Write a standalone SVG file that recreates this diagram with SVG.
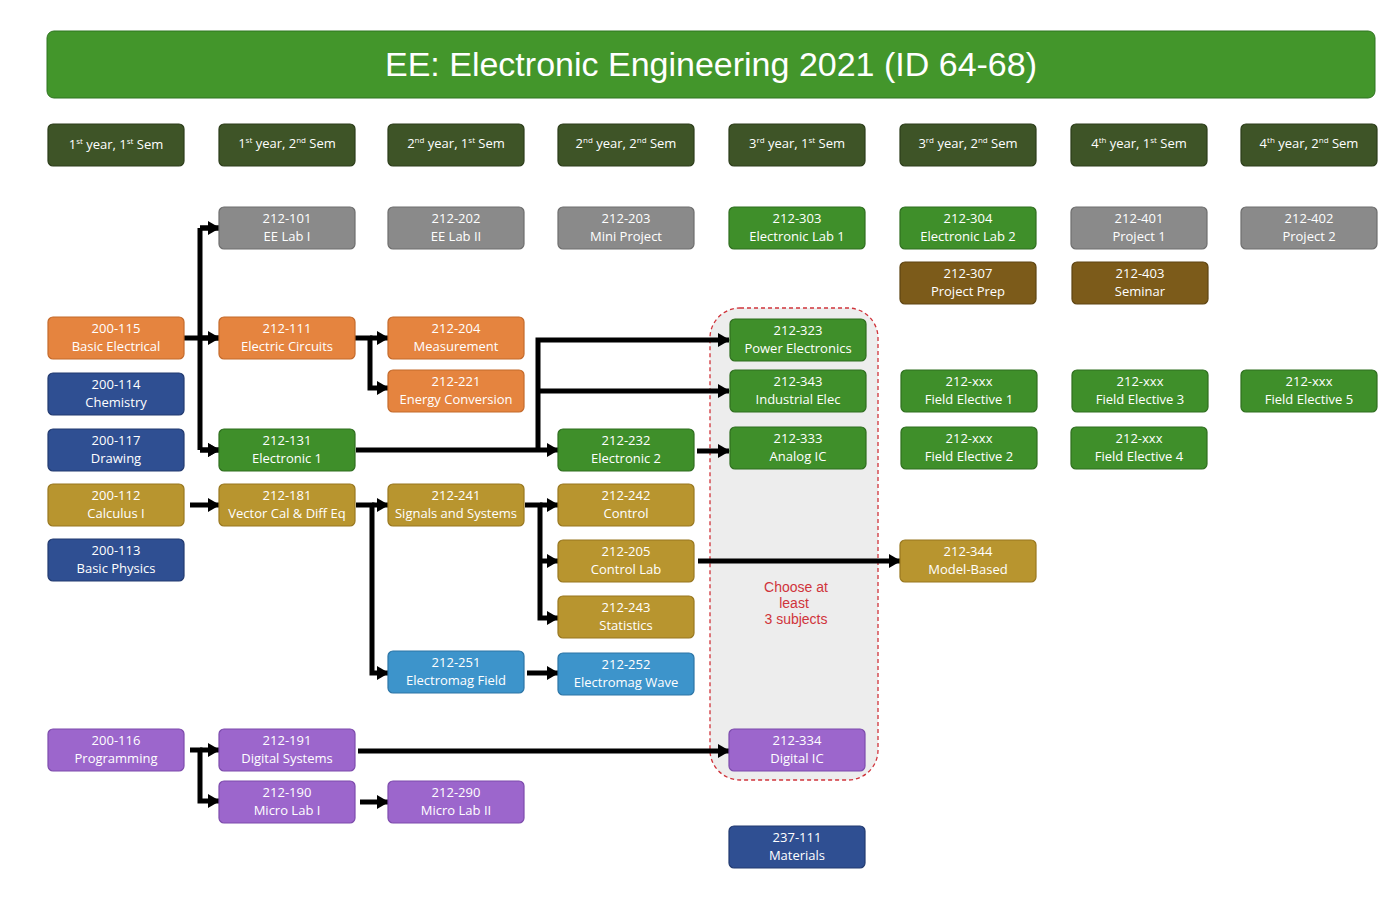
<svg xmlns="http://www.w3.org/2000/svg" width="1395" height="909" viewBox="0 0 1395 909">
<style>
.b{stroke-width:1.2;}
.t{font-family:"Open Sans","Liberation Sans",sans-serif;font-size:13px;fill:#fff;text-anchor:middle;}
.h{font-family:"Open Sans","Liberation Sans",sans-serif;font-size:13px;fill:#fff;text-anchor:middle;}
.c{fill:none;stroke:#000;stroke-width:5;}
.gr{fill:#8a8a8a;stroke:#6e6e6e}.or{fill:#e5843f;stroke:#c46a2b}.bl{fill:#2f4f92;stroke:#223a70}.gn{fill:#3f8f2a;stroke:#2f6e1f}
.go{fill:#b8952f;stroke:#98771f}.dg{fill:#7c5b1a;stroke:#5e4412}.lb{fill:#3d94cb;stroke:#2c75a6}.pu{fill:#9c66cc;stroke:#7d4bac}.hd{fill:#3e5427;stroke:#2c3d1a}
</style>
<defs><marker id="a" markerUnits="userSpaceOnUse" markerWidth="12" markerHeight="14" refX="11" refY="7" orient="auto"><path d="M0,0L12,7L0,14z" fill="#000"/></marker></defs>
<rect x="47" y="31" width="1328" height="67" rx="7" fill="#43962b" stroke="#2f7420"/>
<text x="711" y="76" font-family="'Liberation Sans',Arial,sans-serif" font-size="34" fill="#fff" text-anchor="middle">EE: Electronic Engineering 2021 (ID 64-68)</text>
<g id="headers">
<rect class="hd b" x="48" y="124" width="136" height="42" rx="5"/><text class="h" x="116" y="149">1<tspan font-size="8" dy="-5">st</tspan><tspan dy="5"> year, 1</tspan><tspan font-size="8" dy="-5">st</tspan><tspan dy="5"> Sem</tspan></text>
<rect class="hd b" x="219" y="124" width="136" height="42" rx="5"/><text class="h" x="287" y="148">1<tspan font-size="8" dy="-5">st</tspan><tspan dy="5"> year, 2</tspan><tspan font-size="8" dy="-5">nd</tspan><tspan dy="5"> Sem</tspan></text>
<rect class="hd b" x="388" y="124" width="136" height="42" rx="5"/><text class="h" x="456" y="148">2<tspan font-size="8" dy="-5">nd</tspan><tspan dy="5"> year, 1</tspan><tspan font-size="8" dy="-5">st</tspan><tspan dy="5"> Sem</tspan></text>
<rect class="hd b" x="558" y="124" width="136" height="42" rx="5"/><text class="h" x="626" y="148">2<tspan font-size="8" dy="-5">nd</tspan><tspan dy="5"> year, 2</tspan><tspan font-size="8" dy="-5">nd</tspan><tspan dy="5"> Sem</tspan></text>
<rect class="hd b" x="729" y="124" width="136" height="42" rx="5"/><text class="h" x="797" y="148">3<tspan font-size="8" dy="-5">rd</tspan><tspan dy="5"> year, 1</tspan><tspan font-size="8" dy="-5">st</tspan><tspan dy="5"> Sem</tspan></text>
<rect class="hd b" x="900" y="124" width="136" height="42" rx="5"/><text class="h" x="968" y="148">3<tspan font-size="8" dy="-5">rd</tspan><tspan dy="5"> year, 2</tspan><tspan font-size="8" dy="-5">nd</tspan><tspan dy="5"> Sem</tspan></text>
<rect class="hd b" x="1071" y="124" width="136" height="42" rx="5"/><text class="h" x="1139" y="148">4<tspan font-size="8" dy="-5">th</tspan><tspan dy="5"> year, 1</tspan><tspan font-size="8" dy="-5">st</tspan><tspan dy="5"> Sem</tspan></text>
<rect class="hd b" x="1241" y="124" width="136" height="42" rx="5"/><text class="h" x="1309" y="148">4<tspan font-size="8" dy="-5">th</tspan><tspan dy="5"> year, 2</tspan><tspan font-size="8" dy="-5">nd</tspan><tspan dy="5"> Sem</tspan></text>
</g>
<g id="group"><rect x="710" y="308" width="168" height="472" rx="30" fill="#ededed" stroke="#d0343b" stroke-width="1.3" stroke-dasharray="4,3"/>
<text font-family="'Liberation Sans',Arial,sans-serif" font-size="14" fill="#d0343b" text-anchor="middle"><tspan x="796" y="592">Choose at</tspan><tspan x="794" y="608">least</tspan><tspan x="796" y="624">3 subjects</tspan></text></g>
<g id="connectors">
<path class="c" d="M184,338H200M200,228V450M200,228H219M200,338H219M200,450H219" marker-end="url(#a)"/>
<path class="c" d="M200,228H219" marker-end="url(#a)"/><path class="c" d="M200,338H219" marker-end="url(#a)"/><path class="c" d="M200,450H219" marker-end="url(#a)"/>
<path class="c" d="M355,338H370V388H388" marker-end="url(#a)"/><path class="c" d="M370,338H388" marker-end="url(#a)"/>
<path class="c" d="M356,450H558" marker-end="url(#a)"/><path class="c" d="M538,450V340H729" marker-end="url(#a)"/><path class="c" d="M538,391H729" marker-end="url(#a)"/>
<path class="c" d="M697,451H729" marker-end="url(#a)"/>
<path class="c" d="M190,505H219" marker-end="url(#a)"/>
<path class="c" d="M356,505H372V673H388" marker-end="url(#a)"/><path class="c" d="M372,505H388" marker-end="url(#a)"/>
<path class="c" d="M525,505H540V618H558" marker-end="url(#a)"/><path class="c" d="M540,505H558" marker-end="url(#a)"/><path class="c" d="M540,561H558" marker-end="url(#a)"/>
<path class="c" d="M698,561H900" marker-end="url(#a)"/>
<path class="c" d="M527,673H558" marker-end="url(#a)"/>
<path class="c" d="M190,750H200V801H219" marker-end="url(#a)"/><path class="c" d="M200,750H219" marker-end="url(#a)"/>
<path class="c" d="M358,751H729" marker-end="url(#a)"/>
<path class="c" d="M360,802H388" marker-end="url(#a)"/>
</g>
<g id="n200-115"><rect class="or b" x="48" y="317" width="136" height="42" rx="5"/><text class="t" x="116" y="333">200-115</text><text class="t" x="116" y="351">Basic Electrical</text></g>
<g id="n200-114"><rect class="bl b" x="48" y="373" width="136" height="42" rx="5"/><text class="t" x="116" y="389">200-114</text><text class="t" x="116" y="407">Chemistry</text></g>
<g id="n200-117"><rect class="bl b" x="48" y="429" width="136" height="42" rx="5"/><text class="t" x="116" y="445">200-117</text><text class="t" x="116" y="463">Drawing</text></g>
<g id="n200-112"><rect class="go b" x="48" y="484" width="136" height="42" rx="5"/><text class="t" x="116" y="500">200-112</text><text class="t" x="116" y="518">Calculus I</text></g>
<g id="n200-113"><rect class="bl b" x="48" y="539" width="136" height="42" rx="5"/><text class="t" x="116" y="555">200-113</text><text class="t" x="116" y="573">Basic Physics</text></g>
<g id="n200-116"><rect class="pu b" x="48" y="729" width="136" height="42" rx="5"/><text class="t" x="116" y="745">200-116</text><text class="t" x="116" y="763">Programming</text></g>
<g id="n212-101"><rect class="gr b" x="219" y="207" width="136" height="42" rx="5"/><text class="t" x="287" y="223">212-101</text><text class="t" x="287" y="241">EE Lab I</text></g>
<g id="n212-111"><rect class="or b" x="219" y="317" width="136" height="42" rx="5"/><text class="t" x="287" y="333">212-111</text><text class="t" x="287" y="351">Electric Circuits</text></g>
<g id="n212-131"><rect class="gn b" x="219" y="429" width="136" height="42" rx="5"/><text class="t" x="287" y="445">212-131</text><text class="t" x="287" y="463">Electronic 1</text></g>
<g id="n212-181"><rect class="go b" x="219" y="484" width="136" height="42" rx="5"/><text class="t" x="287" y="500">212-181</text><text class="t" x="287" y="518">Vector Cal &amp; Diff Eq</text></g>
<g id="n212-191"><rect class="pu b" x="219" y="729" width="136" height="42" rx="5"/><text class="t" x="287" y="745">212-191</text><text class="t" x="287" y="763">Digital Systems</text></g>
<g id="n212-190"><rect class="pu b" x="219" y="781" width="136" height="42" rx="5"/><text class="t" x="287" y="797">212-190</text><text class="t" x="287" y="815">Micro Lab I</text></g>
<g id="n212-202"><rect class="gr b" x="388" y="207" width="136" height="42" rx="5"/><text class="t" x="456" y="223">212-202</text><text class="t" x="456" y="241">EE Lab II</text></g>
<g id="n212-204"><rect class="or b" x="388" y="317" width="136" height="42" rx="5"/><text class="t" x="456" y="333">212-204</text><text class="t" x="456" y="351">Measurement</text></g>
<g id="n212-221"><rect class="or b" x="388" y="370" width="136" height="42" rx="5"/><text class="t" x="456" y="386">212-221</text><text class="t" x="456" y="404">Energy Conversion</text></g>
<g id="n212-241"><rect class="go b" x="388" y="484" width="136" height="42" rx="5"/><text class="t" x="456" y="500">212-241</text><text class="t" x="456" y="518">Signals and Systems</text></g>
<g id="n212-251"><rect class="lb b" x="388" y="651" width="136" height="42" rx="5"/><text class="t" x="456" y="667">212-251</text><text class="t" x="456" y="685">Electromag Field</text></g>
<g id="n212-290"><rect class="pu b" x="388" y="781" width="136" height="42" rx="5"/><text class="t" x="456" y="797">212-290</text><text class="t" x="456" y="815">Micro Lab II</text></g>
<g id="n212-203"><rect class="gr b" x="558" y="207" width="136" height="42" rx="5"/><text class="t" x="626" y="223">212-203</text><text class="t" x="626" y="241">Mini Project</text></g>
<g id="n212-232"><rect class="gn b" x="558" y="429" width="136" height="42" rx="5"/><text class="t" x="626" y="445">212-232</text><text class="t" x="626" y="463">Electronic 2</text></g>
<g id="n212-242"><rect class="go b" x="558" y="484" width="136" height="42" rx="5"/><text class="t" x="626" y="500">212-242</text><text class="t" x="626" y="518">Control</text></g>
<g id="n212-205"><rect class="go b" x="558" y="540" width="136" height="42" rx="5"/><text class="t" x="626" y="556">212-205</text><text class="t" x="626" y="574">Control Lab</text></g>
<g id="n212-243"><rect class="go b" x="558" y="596" width="136" height="42" rx="5"/><text class="t" x="626" y="612">212-243</text><text class="t" x="626" y="630">Statistics</text></g>
<g id="n212-252"><rect class="lb b" x="558" y="653" width="136" height="42" rx="5"/><text class="t" x="626" y="669">212-252</text><text class="t" x="626" y="687">Electromag Wave</text></g>
<g id="n212-303"><rect class="gn b" x="729" y="207" width="136" height="42" rx="5"/><text class="t" x="797" y="223">212-303</text><text class="t" x="797" y="241">Electronic Lab 1</text></g>
<g id="n212-323"><rect class="gn b" x="730" y="319" width="136" height="42" rx="5"/><text class="t" x="798" y="335">212-323</text><text class="t" x="798" y="353">Power Electronics</text></g>
<g id="n212-343"><rect class="gn b" x="730" y="370" width="136" height="42" rx="5"/><text class="t" x="798" y="386">212-343</text><text class="t" x="798" y="404">Industrial Elec</text></g>
<g id="n212-333"><rect class="gn b" x="730" y="427" width="136" height="42" rx="5"/><text class="t" x="798" y="443">212-333</text><text class="t" x="798" y="461">Analog IC</text></g>
<g id="n212-334"><rect class="pu b" x="729" y="729" width="136" height="42" rx="5"/><text class="t" x="797" y="745">212-334</text><text class="t" x="797" y="763">Digital IC</text></g>
<g id="n237-111"><rect class="bl b" x="729" y="826" width="136" height="42" rx="5"/><text class="t" x="797" y="842">237-111</text><text class="t" x="797" y="860">Materials</text></g>
<g id="n212-304"><rect class="gn b" x="900" y="207" width="136" height="42" rx="5"/><text class="t" x="968" y="223">212-304</text><text class="t" x="968" y="241">Electronic Lab 2</text></g>
<g id="n212-307"><rect class="dg b" x="900" y="262" width="136" height="42" rx="5"/><text class="t" x="968" y="278">212-307</text><text class="t" x="968" y="296">Project Prep</text></g>
<g id="nfe1"><rect class="gn b" x="901" y="370" width="136" height="42" rx="5"/><text class="t" x="969" y="386">212-xxx</text><text class="t" x="969" y="404">Field Elective 1</text></g>
<g id="nfe2"><rect class="gn b" x="901" y="427" width="136" height="42" rx="5"/><text class="t" x="969" y="443">212-xxx</text><text class="t" x="969" y="461">Field Elective 2</text></g>
<g id="n212-344"><rect class="go b" x="900" y="540" width="136" height="42" rx="5"/><text class="t" x="968" y="556">212-344</text><text class="t" x="968" y="574">Model-Based</text></g>
<g id="n212-401"><rect class="gr b" x="1071" y="207" width="136" height="42" rx="5"/><text class="t" x="1139" y="223">212-401</text><text class="t" x="1139" y="241">Project 1</text></g>
<g id="n212-403"><rect class="dg b" x="1072" y="262" width="136" height="42" rx="5"/><text class="t" x="1140" y="278">212-403</text><text class="t" x="1140" y="296">Seminar</text></g>
<g id="nfe3"><rect class="gn b" x="1072" y="370" width="136" height="42" rx="5"/><text class="t" x="1140" y="386">212-xxx</text><text class="t" x="1140" y="404">Field Elective 3</text></g>
<g id="nfe4"><rect class="gn b" x="1071" y="427" width="136" height="42" rx="5"/><text class="t" x="1139" y="443">212-xxx</text><text class="t" x="1139" y="461">Field Elective 4</text></g>
<g id="n212-402"><rect class="gr b" x="1241" y="207" width="136" height="42" rx="5"/><text class="t" x="1309" y="223">212-402</text><text class="t" x="1309" y="241">Project 2</text></g>
<g id="nfe5"><rect class="gn b" x="1241" y="370" width="136" height="42" rx="5"/><text class="t" x="1309" y="386">212-xxx</text><text class="t" x="1309" y="404">Field Elective 5</text></g>
</svg>
